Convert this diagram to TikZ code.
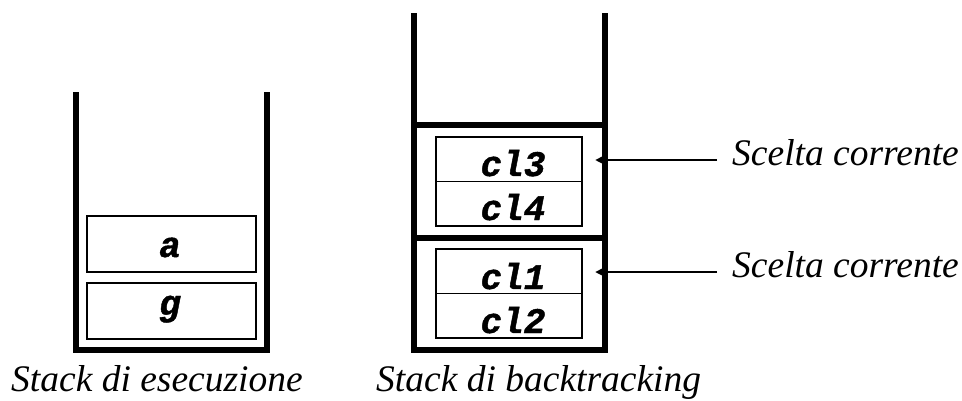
\documentclass[tikz,border=0pt]{standalone}
\usepackage{fontspec}
\setmainfont{Liberation Serif}
\newfontfamily\codefont[FakeBold=1.2]{Liberation Mono Bold Italic}
\usetikzlibrary{arrows.meta}
\begin{document}
\begin{tikzpicture}[x=1pt,y=-1pt,
  wall/.style={line width=5.5pt, line join=miter},
  divider/.style={line width=5.5pt},
  cell/.style={draw, line width=1.5pt, inner sep=0pt, minimum width=146pt, minimum height=44.5pt},
  bigcell/.style={draw, line width=1.5pt, inner sep=0pt, minimum width=169pt, minimum height=56pt},
  mono/.style={font=\codefont\fontsize{36}{40}\selectfont, inner sep=0pt, anchor=base},
  label/.style={font=\itshape\fontsize{37.5}{42}\selectfont, inner sep=0pt, anchor=base west},
  pointer/.style={line width=2.5pt, -{Triangle[length=10pt,width=9pt]}}
]
\useasboundingbox (0,0) rectangle (962,400);

% left stack (esecuzione)
\draw[wall] (76,92) -- (76,350) -- (267,350) -- (267,92);
\node[bigcell] (boxa) at (171.5,244) {};
\node[bigcell] (boxg) at (171.5,311) {};
\node[mono] (ta) at (170,257) {a};
\node[mono] (tg) at (170,315) {g};

% right stack (backtracking)
\draw[wall] (414,13) -- (414,350) -- (605,350) -- (605,13);
\draw[divider] (414,125) -- (605,125);
\draw[divider] (414,238) -- (605,238);

\node[cell] (c3) at (509,159.25) {};
\node[cell] (c4) at (509,203.75) {};
\node[cell] (c1) at (509,271.25) {};
\node[cell] (c2) at (509,315.75) {};
\node[mono] (t3) at (513,176) {cl3};
\node[mono] (t4) at (513,220) {cl4};
\node[mono] (t1) at (513,289) {cl1};
\node[mono] (t2) at (513,333) {cl2};

% pointers
\coordinate (p1) at (595,160);
\coordinate (p2) at (595,272);
\node[label] (s1) at (732,165) {Scelta corrente};
\node[label] (s2) at (732,277) {Scelta corrente};
\draw[pointer] ([xshift=-15pt]s1.west |- p1) -- (p1);
\draw[pointer] ([xshift=-15pt]s2.west |- p2) -- (p2);

% captions
\node[label] (cap1) at (11,391) {Stack di esecuzione};
\node[label] (cap2) at (376,391) {Stack di backtracking};
\end{tikzpicture}
\end{document}
